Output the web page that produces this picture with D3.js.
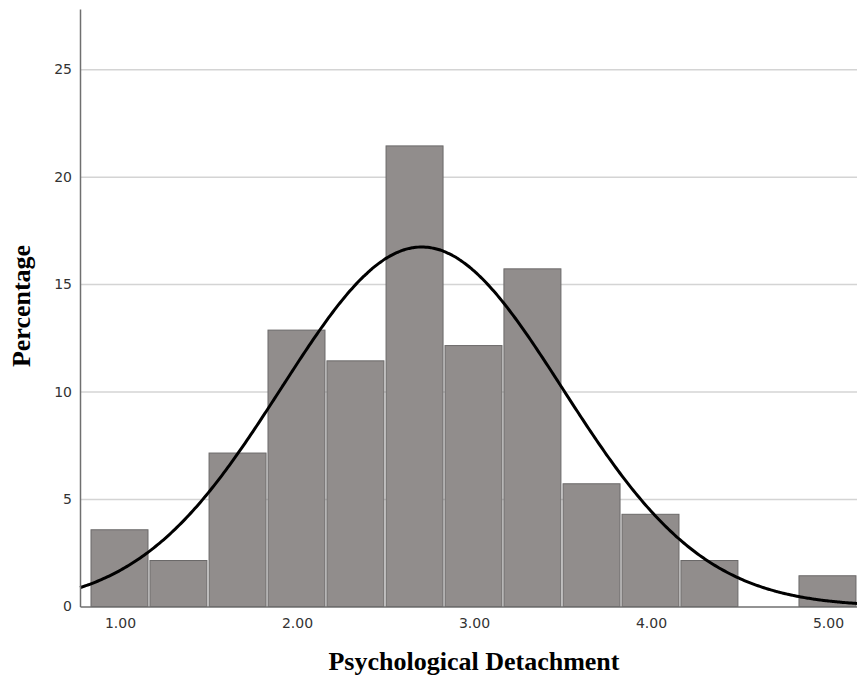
<!DOCTYPE html>
<html lang="en">
<head>
    <meta charset="UTF-8">
    <title>Psychological Detachment histogram</title>
    <script src="https://d3js.org/d3.v7.min.js"></script>
    <style>
        body { margin: 0; background: #fff; }
        .axis text {
            font-family: "DejaVu Sans", sans-serif;
            font-size: 14px;
            fill: #333;
        }
        .axis path { stroke: #6f6f6f; stroke-width: 1.5px; }
        .grid line { stroke: #d4d4d4; stroke-width: 1.5px; }
        .grid path { display: none; }
        .label {
            font-family: "Liberation Serif", "Times New Roman", serif;
            font-weight: bold;
            font-size: 26px;
            fill: #000;
        }
    </style>
</head>
<body>
    <svg id="chart" width="857" height="677"></svg>

    <script>
        // bins (centres) and percentage of cases in each, n = 140
        var binCenters = [1.000, 1.333, 1.667, 2.000, 2.333, 2.667, 3.000, 3.333, 3.667, 4.000, 4.333, 4.667, 5.000];
        var percentages = [3.57, 2.14, 7.14, 12.86, 11.43, 21.43, 12.14, 15.71, 5.71, 4.29, 2.14, 0, 1.43];
        var binWidth = 1 / 3;

        // fitted normal curve
        var normalMean = 2.705;
        var normalSd = 0.795;

        var xTicks = [1, 2, 3, 4, 5];
        var yTicks = [0, 5, 10, 15, 20, 25];

        var plotLeft = 80, plotRight = 857, plotTop = 9, plotBottom = 606.5;

        var svg = d3.select("#chart");

        var x = d3.scaleLinear()
            .domain([0.774, 5.164])
            .range([plotLeft, plotRight]);

        var y = d3.scaleLinear()
            .domain([0, 27.8])
            .range([plotBottom, plotTop]);

        // gridlines
        svg.append("g")
            .attr("class", "grid")
            .attr("transform", "translate(" + plotLeft + ",0)")
            .call(d3.axisLeft(y).tickValues(yTicks.slice(1)).tickSize(-(plotRight - plotLeft)).tickFormat(""));

        // bars
        svg.selectAll(".bar")
            .data(binCenters)
            .enter().append("rect")
            .attr("class", "bar")
            .attr("x", function (d) { return x(d - binWidth / 2) + 0.5; })
            .attr("width", function (d) { return x(d + binWidth / 2) - x(d - binWidth / 2) - 2; })
            .attr("y", function (d, i) { return y(percentages[i]); })
            .attr("height", function (d, i) { return y(0) - y(percentages[i]); })
            .attr("fill", "#918d8c")
            .attr("stroke", "#6b6969")
            .attr("stroke-width", 1)
            .style("display", function (d, i) { return percentages[i] > 0 ? null : "none"; });

        // normal curve
        var scaleFactor = 100 * binWidth;
        var curveXs = d3.range(0, 401).map(function (i) {
            return x.domain()[0] + (x.domain()[1] - x.domain()[0]) * i / 400;
        });
        var line = d3.line()
            .x(function (d) { return x(d); })
            .y(function (d) {
                var z = (d - normalMean) / normalSd;
                return y(scaleFactor * Math.exp(-0.5 * z * z) / (normalSd * Math.sqrt(2 * Math.PI)));
            })
            .curve(d3.curveBasis);

        svg.append("path")
            .datum(curveXs)
            .attr("d", line)
            .attr("fill", "none")
            .attr("stroke", "#000")
            .attr("stroke-width", 3);

        // x axis
        var xAxis = svg.append("g")
            .attr("class", "axis")
            .attr("transform", "translate(0," + plotBottom + ")")
            .call(d3.axisBottom(x).tickValues(xTicks).tickSize(0).tickPadding(12).tickFormat(d3.format(".2f")));
        xAxis.select("path").attr("stroke-width", 2).attr("stroke", "#666");

        // y axis
        svg.append("g")
            .attr("class", "axis")
            .attr("transform", "translate(" + plotLeft + ",0)")
            .call(d3.axisLeft(y).tickValues(yTicks).tickSize(0).tickPadding(8));

        // axis titles
        svg.append("text")
            .attr("class", "label")
            .attr("x", 474)
            .attr("y", 670)
            .attr("text-anchor", "middle")
            .text("Psychological Detachment");

        svg.append("text")
            .attr("class", "label")
            .attr("transform", "rotate(-90)")
            .attr("x", -306)
            .attr("y", 30)
            .attr("text-anchor", "middle")
            .text("Percentage");
    </script>
</body>
</html>
